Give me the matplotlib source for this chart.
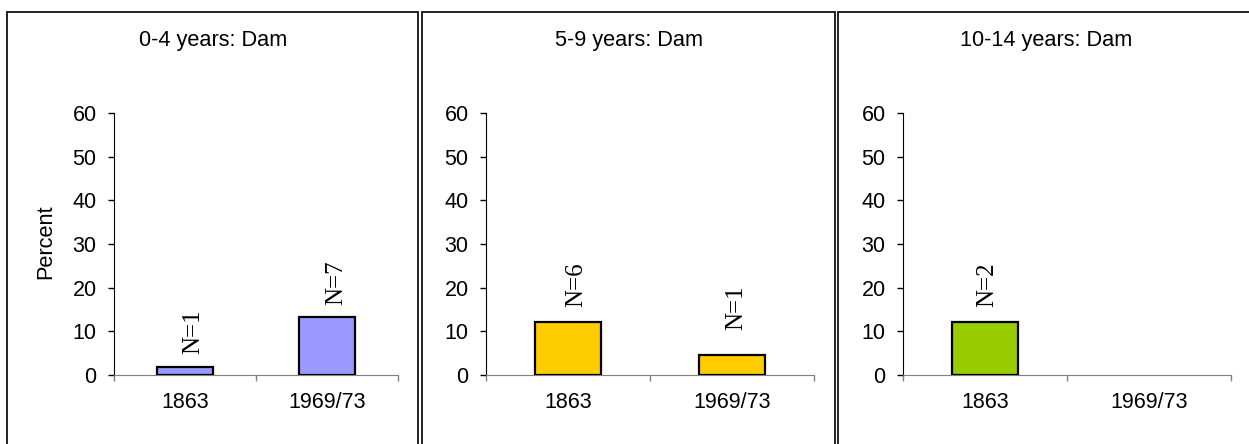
import numpy as np
import matplotlib
matplotlib.use("Agg")
import matplotlib.pyplot as plt
from matplotlib.patches import Rectangle

plt.rcParams['font.family'] = ['Liberation Sans', 'DejaVu Sans']

# data
categories = ["1863", "1969/73"]
titles = ["0-4 years: Dam", "5-9 years: Dam", "10-14 years: Dam"]
percent_0_4 = [1.9, 13.3]
n_0_4 = [1, 7]
percent_5_9 = [12.2, 4.5]
n_5_9 = [6, 1]
percent_10_14 = [12.2, 0]
n_10_14 = [2, 0]
yticks = [0, 10, 20, 30, 40, 50, 60]

percents = [percent_0_4, percent_5_9, percent_10_14]
counts = [n_0_4, n_5_9, n_10_14]
colors = ["#9999FF", "#FFCC00", "#99CC00"]

# layout in pixels
W, H = 1249, 444
ax_x = [(114, 398), (486, 814), (903, 1231)]
ax_top, ax_bot = 113, 375
frames = [(6.5, 418), (422, 834.5), (838, 1262)]
title_x = [213, 629, 1046]
# label offsets (px) from bar centre / bar top
lab_dx = [[8, 9], [8, 4], [2.5, 0]]
lab_dy = [[13, 12], [15, 25], [15, 0]]

fig = plt.figure(figsize=(W / 100, H / 100), dpi=100)

for i in range(3):
    # panel frame
    x0, x1 = frames[i]
    fig.patches.append(Rectangle((x0 / W, -0.05), (x1 - x0) / W, 1.05 - 12.5 / H,
                                 transform=fig.transFigure, fill=False,
                                 edgecolor="#111111", linewidth=1.3))
    fig.text(title_x[i] / W, 1 - 46 / H, titles[i], ha="center", va="baseline", fontsize=15.7)

    l, r = ax_x[i]
    ax = fig.add_axes([l / W, 1 - ax_bot / H, (r - l) / W, (ax_bot - ax_top) / H])
    x = np.arange(len(categories))
    vals = np.array(percents[i], dtype=float)
    keep = vals > 0
    ax.bar(x[keep], vals[keep], width=0.4, color=colors[i], edgecolor="black",
           linewidth=1.6, zorder=3)
    for j in range(len(categories)):
        if counts[i][j] > 0:
            ax.annotate("N=%d" % counts[i][j], (x[j], vals[j]),
                        xytext=(lab_dx[i][j] * 0.72, lab_dy[i][j] * 0.72),
                        textcoords="offset points", rotation=90, ha="center",
                        va="bottom", fontsize=18, family=["Liberation Serif"])

    ax.set_xlim(-0.5, 1.5)
    ax.set_ylim(0, 60)
    ax.set_yticks(yticks)
    ax.tick_params(axis="y", direction="out", length=4.5, width=1, pad=8,
                   labelsize=15.5, color="black")
    ax.set_xticks([-0.5, 0.5, 1.5])
    ax.set_xticklabels([])
    ax.set_xticks(x, minor=True)
    ax.set_xticklabels(categories, minor=True)
    ax.tick_params(axis="x", which="major", direction="out", length=4, width=1,
                   color="#808080")
    ax.tick_params(axis="x", which="minor", length=0, pad=12.5, labelsize=15.5)
    for s in ["top", "right"]:
        ax.spines[s].set_visible(False)
    ax.spines["left"].set_color("black")
    ax.spines["bottom"].set_color("#808080")
    ax.patch.set_alpha(0)

fig.text(46 / W, 1 - 242 / H, "Percent", rotation=90, ha="center", va="center", fontsize=15.7)

plt.savefig("out.png", dpi=100)
